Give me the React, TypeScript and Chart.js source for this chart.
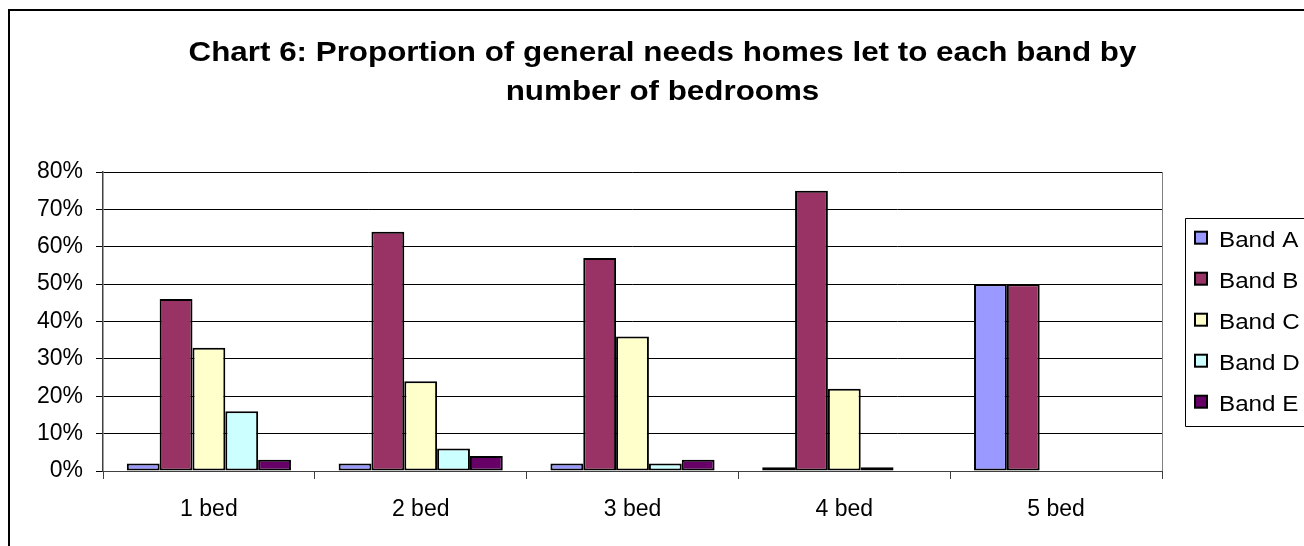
import React, { useEffect, useRef } from "react";
import { Chart, registerables } from "chart.js";

Chart.register(...registerables);

const categories = ["1 bed", "2 bed", "3 bed", "4 bed", "5 bed"];
const seriesNames = ["Band A", "Band B", "Band C", "Band D", "Band E"];
const bandA = [2, 2, 2, 1, 50];
const bandB = [46, 64, 57, 75, 50];
const bandC = [33, 24, 36, 22, 0];
const bandD = [16, 6, 2, 1, 0];
const bandE = [3, 4, 3, 0, 0];
const seriesColors = ["#9999FF", "#993366", "#FFFFCC", "#CCFFFF", "#660066"];
const yTicks = [0, 10, 20, 30, 40, 50, 60, 70, 80];
const titleLines = [
  "Chart 6: Proportion of general needs homes let to each band by",
  "number of bedrooms",
];

const FONT = "'Liberation Sans', Arial, sans-serif";

const W = 1294;
const H = 535;

function stretchedText(ctx: any, text: string, x: number, y: number, sx: number) {
  ctx.save();
  ctx.translate(x, y);
  ctx.scale(sx, 1);
  ctx.fillText(text, 0, 0);
  ctx.restore();
}

const decorPlugin = {
  id: "decor",
  afterDraw(chart: any) {
    const ctx = chart.ctx;
    const area = chart.chartArea;
    ctx.save();
    // plot area right edge
    ctx.strokeStyle = "#808080";
    ctx.lineWidth = 1;
    ctx.beginPath();
    ctx.moveTo(Math.round(area.right) + 0.5, area.top);
    ctx.lineTo(Math.round(area.right) + 0.5, area.bottom);
    ctx.stroke();

    // title
    ctx.fillStyle = "#000";
    ctx.font = `bold 28px ${FONT}`;
    ctx.textAlign = "center";
    ctx.textBaseline = "alphabetic";
    stretchedText(ctx, titleLines[0], 652.5, 50, 1.12);
    stretchedText(ctx, titleLines[1], 652.5, 89, 1.12);

    // legend box
    ctx.strokeStyle = "#000";
    ctx.lineWidth = 1;
    ctx.beginPath();
    ctx.moveTo(W + 5, 207.5);
    ctx.lineTo(1175.5, 207.5);
    ctx.lineTo(1175.5, 415.5);
    ctx.lineTo(W + 5, 415.5);
    ctx.stroke();

    ctx.font = `22px ${FONT}`;
    ctx.textAlign = "left";
    chart.data.datasets.forEach((ds: any, i: number) => {
      const base = 235.7 + i * 41;
      ctx.fillStyle = ds.backgroundColor;
      ctx.fillRect(1185, base - 15, 12, 12);
      ctx.strokeStyle = "#000";
      ctx.lineWidth = 2;
      ctx.strokeRect(1185, base - 15, 12, 12);
      ctx.fillStyle = "#000";
      stretchedText(ctx, ds.label, 1209, base, 1.1);
    });
    ctx.restore();
  },
};

export default function App() {
  const ref = useRef<HTMLCanvasElement>(null);

  useEffect(() => {
    if (!ref.current) return;
    const series = [bandA, bandB, bandC, bandD, bandE];
    const chart = new Chart(ref.current, {
      type: "bar",
      data: {
        labels: categories,
        datasets: series.map((vals, i) => ({
          label: seriesNames[i],
          data: vals,
          backgroundColor: seriesColors[i],
          borderColor: "#000",
          borderWidth: 2,
          borderSkipped: false,
          categoryPercentage: 0.775,
          barPercentage: 1,
        })),
      },
      options: {
        animation: false,
        responsive: false,
        devicePixelRatio: 1,
        layout: { padding: { top: 161, right: 142, left: 0, bottom: 0 } },
        plugins: {
          legend: { display: false },
          title: { display: false },
          tooltip: { enabled: false },
        },
        scales: {
          x: {
            offset: true,
            grid: {
              offset: true,
              drawOnChartArea: false,
              drawTicks: true,
              tickLength: 8,
              color: "#404040",
              lineWidth: 1,
            },
            border: { display: true, color: "#404040", width: 1 },
            ticks: {
              color: "#000",
              font: { family: FONT, size: 23 },
              padding: 17,
              maxRotation: 0,
            },
            afterFit(scale: any) {
              scale.height = 75;
            },
          },
          y: {
            min: 0,
            max: 80,
            afterBuildTicks(scale: any) {
              scale.ticks = yTicks.map((v) => ({ value: v }));
            },
            grid: {
              color: "#000",
              lineWidth: 1,
              drawTicks: true,
              tickLength: 7,
            },
            border: { display: true, color: "#404040", width: 1.5 },
            ticks: {
              color: "#000",
              font: { family: FONT, size: 23 },
              padding: 13,
              callback: (v: any) => `${v}%`,
            },
            afterFit(scale: any) {
              scale.width = 93;
            },
          },
        },
      },
      plugins: [decorPlugin],
    });
    return () => chart.destroy();
  }, []);

  return (
    <div
      style={{
        position: "fixed",
        left: 8,
        top: 9,
        width: W,
        height: H,
        borderLeft: "2px solid #000",
        borderTop: "2px solid #000",
        overflow: "hidden",
        background: "#fff",
      }}
    >
      <canvas ref={ref} width={W} height={H} style={{ display: "block" }} />
    </div>
  );
}
